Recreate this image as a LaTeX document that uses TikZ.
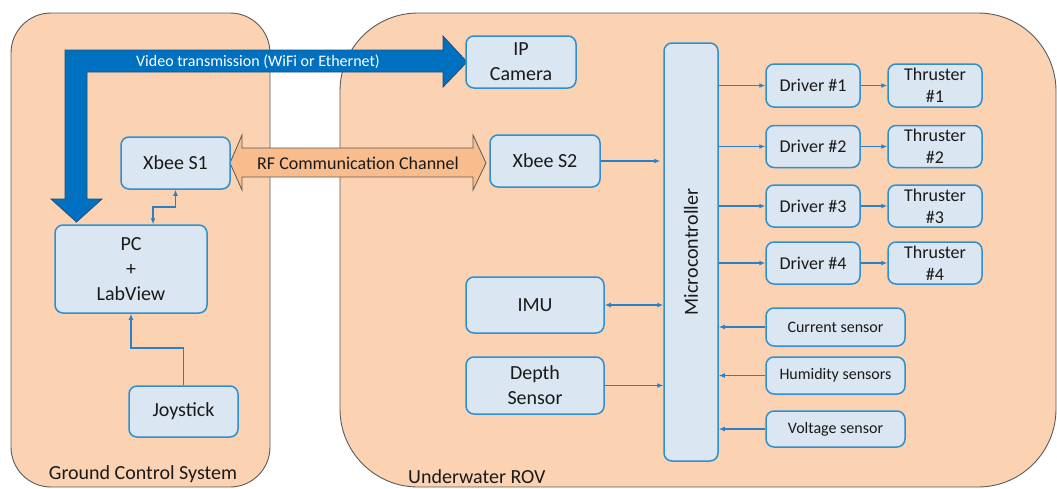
\documentclass[tikz,border=0pt]{standalone}
\usepackage{fontspec}
\setmainfont{Carlito}
\usetikzlibrary{arrows.meta,calc}
\definecolor{peach}{HTML}{FBD3B3}
\definecolor{cframe}{HTML}{5A5A5A}
\definecolor{nodefill}{HTML}{DAE6F1}
\definecolor{nodedraw}{HTML}{2F8FCF}
\definecolor{connblue}{HTML}{2E80C4}
\definecolor{vidblue}{HTML}{0070C0}
\definecolor{viddark}{HTML}{1F4E79}
\definecolor{rforange}{HTML}{F9BD8D}
\definecolor{txt}{HTML}{1A1A1A}
\tikzset{
  container/.style={fill=peach,draw=cframe,line width=0.9pt},
  box/.style={rectangle,rounded corners=8pt,fill=nodefill,draw=nodedraw,line width=1.5pt,
    inner sep=0pt,align=center,text=txt,font=\fontsize{20}{25}\selectfont},
  smallbox/.style={box,font=\fontsize{18}{22}\selectfont},
  sensorbox/.style={box,font=\fontsize{16}{19}\selectfont},
  conn/.style={draw=connblue,line width=1.6pt,arrows={-Latex[length=6pt,width=5pt]}},
  bconn/.style={draw=connblue,line width=1.6pt,arrows={Latex[length=6pt,width=5pt]-Latex[length=6pt,width=5pt]}},
  grouplabel/.style={text=txt,font=\fontsize{20}{24}\selectfont,inner sep=0pt}
}
\begin{document}
\begin{tikzpicture}[x=1pt,y=-1pt]
\useasboundingbox (0,0) rectangle (1057,488);
% containers
\draw[container,rounded corners=40pt] (11,13) rectangle (270,487);
\draw[container,rounded corners=78pt] (340,13) rectangle (1056,487);
\node[grouplabel] (gcslabel) at (143,474) {Ground Control System};
\node[grouplabel,anchor=west] (rovlabel) at (408,476.5) {Underwater ROV};

% video transmission arrow
\draw[fill=vidblue,draw=viddark,line width=0.8pt,line join=miter]
  (467,62) -- (443,36) -- (443,50) -- (65,50) -- (65,199) -- (51,199) -- (76.5,222)
  -- (102,199) -- (87,199) -- (87,72) -- (443,72) -- (443,87) -- cycle;
\node[text=white,font=\fontsize{16}{19}\selectfont,inner sep=0pt] (vidlabel) at (258,62)
  {Video transmission (WiFi or Ethernet)};

% RF arrow
\draw[fill=rforange,draw=cframe,line width=0.8pt,line join=miter]
  (230,163) -- (242,135) -- (242,148) -- (473,148) -- (473,135) -- (486,163)
  -- (473,190) -- (473,177) -- (242,177) -- (242,190) -- cycle;
\node[text=txt,font=\fontsize{18}{21}\selectfont,inner sep=0pt] (rflabel) at (358,163)
  {RF Communication Channel};

% ground nodes
\node[box,minimum width=109pt,minimum height=52pt] (xbee1) at (175.5,163) {Xbee S1};
\node[box,minimum width=152pt,minimum height=88pt] (pc) at (131,269) {PC\\+\\LabView};
\node[box,minimum width=109pt,minimum height=51pt] (joy) at (183.5,411.5) {Joystick};

% ROV nodes
\node[box,minimum width=110pt,minimum height=52pt] (cam) at (521,62) {IP\\Camera};
\node[box,minimum width=110pt,minimum height=52pt] (xbee2) at (545,161) {Xbee S2};
\node[box,minimum width=54pt,minimum height=418pt] (mcu) at (691,252) {};
\node[rotate=90,text=txt,font=\fontsize{20}{24}\selectfont,inner sep=0pt] (mcutext) at (mcu.center) {Microcontroller};
\node[box,minimum width=138pt,minimum height=56pt] (imu) at (535,305) {IMU};
\node[box,minimum width=138pt,minimum height=57pt] (depth) at (535,385.5) {Depth\\Sensor};

\node[smallbox,minimum width=94pt,minimum height=43pt] (d1) at (813,85.5) {Driver \#1};
\node[smallbox,minimum width=94pt,minimum height=42pt] (d2) at (813,146.5) {Driver \#2};
\node[smallbox,minimum width=94pt,minimum height=42pt] (d3) at (813,206) {Driver \#3};
\node[smallbox,minimum width=94pt,minimum height=42pt] (d4) at (813,263) {Driver \#4};
\node[smallbox,minimum width=94pt,minimum height=43pt] (t1) at (935,85.5) {Thruster\\\#1};
\node[smallbox,minimum width=94pt,minimum height=42pt] (t2) at (935,146.5) {Thruster\\\#2};
\node[smallbox,minimum width=94pt,minimum height=42pt] (t3) at (935,206) {Thruster\\\#3};
\node[smallbox,minimum width=94pt,minimum height=42pt] (t4) at (935,263) {Thruster\\\#4};

\node[sensorbox,minimum width=139pt,minimum height=38pt] (cur) at (835.5,327) {Current sensor};
\node[sensorbox,minimum width=139pt,minimum height=37pt] (hum) at (835.5,375.5) {Humidity sensors};
\node[sensorbox,minimum width=139pt,minimum height=36pt] (volt) at (835.5,429) {Voltage sensor};

% connectors
\draw[conn] (joy.north) -- ++(0,-37) -| (pc.south);
\draw[bconn] ([xshift=22pt]pc.north) -- ++(0,-17) -| (xbee1.south);
\draw[conn,shorten >=3pt] (xbee2.east) -- (xbee2.east -| mcu.west);
\draw[bconn] (imu.east) -- (imu.east -| mcu.west);
\draw[conn] (depth.east) -- (depth.east -| mcu.west);
\foreach \d/\t in {d1/t1,d2/t2,d3/t3,d4/t4}{
  \draw[conn] (mcu.east |- \d.west) -- (\d.west);
  \draw[conn] (\d.east) -- (\t.west);
}
\foreach \s in {cur,hum,volt}{
  \draw[conn] (\s.west) -- (\s.west -| mcu.east);
}
\end{tikzpicture}
\end{document}
